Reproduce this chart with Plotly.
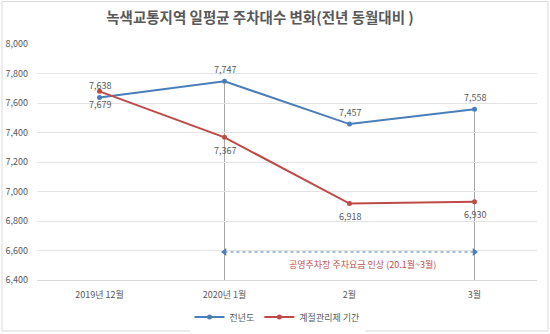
import plotly.graph_objects as go

# Categories and series values
months = ["2019년 12월", "2020년 1월", "2월", "3월"]
prev_year = [7638, 7747, 7457, 7558]      # 전년도
season_period = [7679, 7367, 6918, 6930]  # 계절관리제 기간

y_ticks = [6400, 6600, 6800, 7000, 7200, 7400, 7600, 7800, 8000]

title_text = "녹색교통지역 일평균 주차대수 변화(전년 동월대비 )"
note_text = "공영주차장 주차요금 인상 (20.1월~3월)"
note_span = ["2020년 1월", "3월"]
note_level = 6590

BLUE = "#4a7ebb"
RED = "#be4b48"
GRAY_TXT = "#595959"
FONT = "Noto Sans CJK KR"

fig = go.Figure()

fig.add_trace(go.Scatter(
    x=months, y=prev_year, name="전년도",
    mode="lines+markers",
    line=dict(color=BLUE, width=2),
    marker=dict(color=BLUE, size=5),
))

fig.add_trace(go.Scatter(
    x=months, y=season_period, name="계절관리제 기간",
    mode="lines+markers",
    line=dict(color=RED, width=2),
    marker=dict(color=RED, size=5),
))

# Value labels: 전년도 above its points, 계절관리제 기간 below
for m, v in zip(months, prev_year):
    fig.add_annotation(x=m, y=v, text=f"{v:,}", showarrow=False,
                       yshift=12, font=dict(size=9, color=GRAY_TXT, family=FONT))
for m, v in zip(months, season_period):
    fig.add_annotation(x=m, y=v, text=f"{v:,}", showarrow=False,
                       yshift=-13, font=dict(size=9, color=GRAY_TXT, family=FONT))

# Dotted double-headed arrow marking the fee increase period
fig.add_trace(go.Scatter(
    x=note_span, y=[note_level, note_level],
    mode="lines+markers",
    line=dict(color=BLUE, width=1, dash="dot"),
    marker=dict(color=BLUE, size=7, symbol=["triangle-left", "triangle-right"]),
    showlegend=False, hoverinfo="skip",
))

# Vertical reference lines from the 전년도 points down to the axis
for m in note_span:
    v = prev_year[months.index(m)]
    fig.add_shape(type="line", xref="x", yref="y",
                  x0=m, x1=m, y0=v, y1=y_ticks[0] - 15,
                  line=dict(color="#a6a6a6", width=1), layer="below")

fig.add_annotation(x=2.1, y=6508, xref="x", yref="y", text=note_text,
                   showarrow=False,
                   font=dict(size=9, color="#c0504d", family=FONT))

# Outer frame of the chart area
fig.add_shape(type="rect", xref="paper", yref="paper",
              x0=-0.07, x1=1.022, y0=-0.216, y1=1.18,
              line=dict(color="#d9d9d9", width=1), layer="below")

fig.update_layout(
    width=550, height=334,
    margin=dict(l=37, r=13, t=44, b=54, autoexpand=False),
    paper_bgcolor="white", plot_bgcolor="white",
    font=dict(family=FONT, color=GRAY_TXT, size=9),
    title=dict(text=title_text, x=260 / 550, xanchor="center",
               y=1 - 18 / 334, yanchor="middle", yref="container",
               font=dict(size=14.5, color=GRAY_TXT, family=FONT, weight="bold")),
    showlegend=True,
    legend=dict(orientation="h", x=0.48, xanchor="center",
                yref="container", y=1 - 317 / 334, yanchor="middle",
                font=dict(size=9, color=GRAY_TXT, family=FONT)),
    xaxis=dict(type="category", categoryorder="array", categoryarray=months,
               range=[-0.5, 3.5], showgrid=False, showline=True,
               linecolor="#d9d9d9", ticks="", ticklabelstandoff=6,
               automargin=False,
               tickfont=dict(size=9, color=GRAY_TXT)),
    yaxis=dict(range=[6400, 8000], tickvals=y_ticks, tickformat=",",
               showgrid=True, gridcolor="#e3e3e3", gridwidth=1,
               zeroline=False, ticks="", ticklabelstandoff=8,
               automargin=False,
               tickfont=dict(size=9, color=GRAY_TXT)),
)

fig.write_html("out.html")
